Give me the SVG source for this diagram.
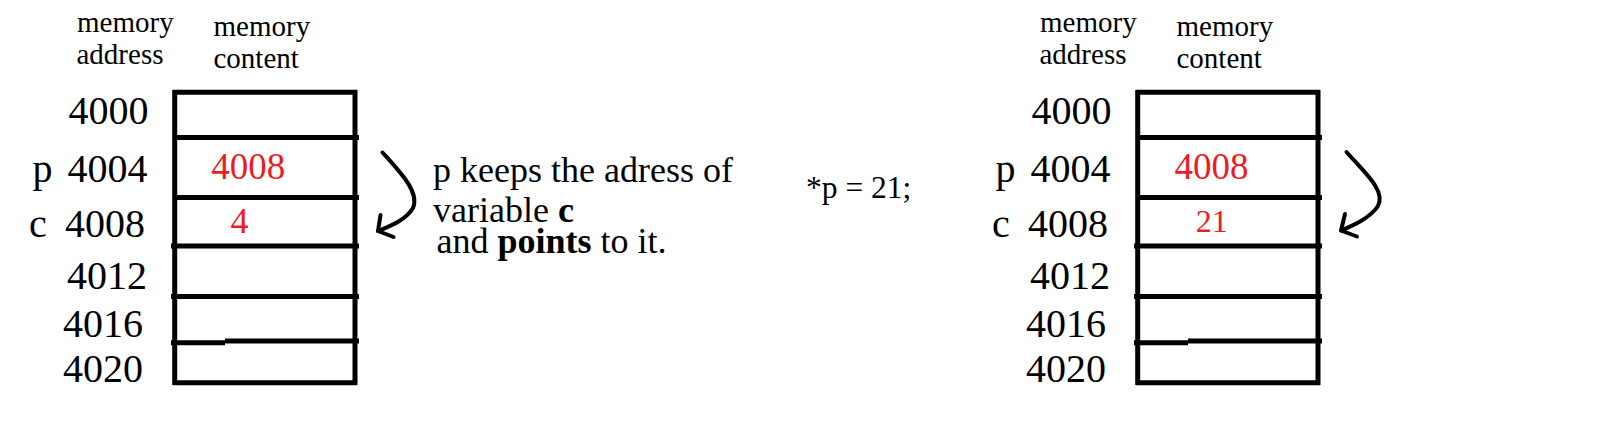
<svg xmlns="http://www.w3.org/2000/svg" width="1603" height="424" viewBox="0 0 1603 424">
<style>
text{font-family:"Liberation Serif","Times New Roman",serif;fill:#000}
.hdr{font-size:29px}
.addr{font-size:40px}
.red{fill:#ED1C24}
.note{font-size:36px}
.box line{stroke:#000;stroke-width:5;stroke-linecap:butt}
.arr{fill:none;stroke:#000;stroke-width:4;stroke-linecap:round;stroke-linejoin:round}
</style>
<rect width="1603" height="424" fill="#fff"/>
<defs>
<g id="memtable" class="box">
<line x1="174.7" y1="90" x2="174.7" y2="385"/>
<line x1="355" y1="90" x2="355" y2="385"/>
<line x1="173" y1="92.3" x2="357" y2="92.3"/>
<line x1="173" y1="137.5" x2="359" y2="137.5"/>
<line x1="173" y1="197.5" x2="359" y2="197.5"/>
<line x1="171" y1="246" x2="359" y2="246"/>
<line x1="171" y1="296.5" x2="359" y2="296.5"/>
<line x1="171" y1="342.7" x2="225" y2="342.7"/>
<line x1="225" y1="341" x2="359" y2="341"/>
<line x1="173" y1="382.7" x2="357" y2="382.7"/>
</g>
<g id="labels">
<text class="hdr" x="77" y="32.3">memory</text>
<text class="hdr" x="76.5" y="64.3">address</text>
<text class="hdr" x="213.5" y="36">memory</text>
<text class="hdr" x="213.5" y="68.3">content</text>
<text class="addr" x="68.5" y="124">4000</text>
<text class="addr" x="32.5" y="181.7">p</text>
<text class="addr" x="67.5" y="181.7">4004</text>
<text class="addr" x="29" y="237">c</text>
<text class="addr" x="65" y="237">4008</text>
<text class="addr" x="67" y="288.5">4012</text>
<text class="addr" x="63" y="336.7">4016</text>
<text class="addr" x="63" y="381.7">4020</text>
</g>
</defs>
<g id="memory-before">
<use href="#labels"/>
<use href="#memtable"/>
<text class="red" x="211.2" y="179.3" font-size="37">4008</text>
<text class="red" x="230.5" y="232.7" font-size="36">4</text>
</g>
<g id="explanation">
<text class="note" x="433" y="181.7">p keeps the adress of</text>
<text class="note" x="433" y="221.7">variable <tspan font-weight="bold">c</tspan></text>
<text class="note" x="436.5" y="253.3">and <tspan font-weight="bold">points</tspan> to it.</text>
</g>
<g id="statement">
<text x="806" y="197.7" font-size="31.5">*p = 21;</text>
</g>
<g id="memory-after">
<g transform="translate(963,0)">
<use href="#labels"/>
<use href="#memtable"/>
</g>
<text class="red" x="1174.5" y="179.3" font-size="37">4008</text>
<text class="red" x="1195.7" y="231.7" font-size="32">21</text>
</g>
<g id="connectors">
<path class="arr" d="M382.5 152.5 C400 172 420 192 413 208 C406 220 390 226 378 231"/>
<polyline class="arr" points="380.5,215 378,231 393.5,237"/>
<path class="arr" d="M1346.5 152 C1364 172 1386 190 1378 206 C1370 218 1354 225 1341 230.5"/>
<polyline class="arr" points="1345,214 1341,230.5 1357,236.5"/>
</g>
</svg>
